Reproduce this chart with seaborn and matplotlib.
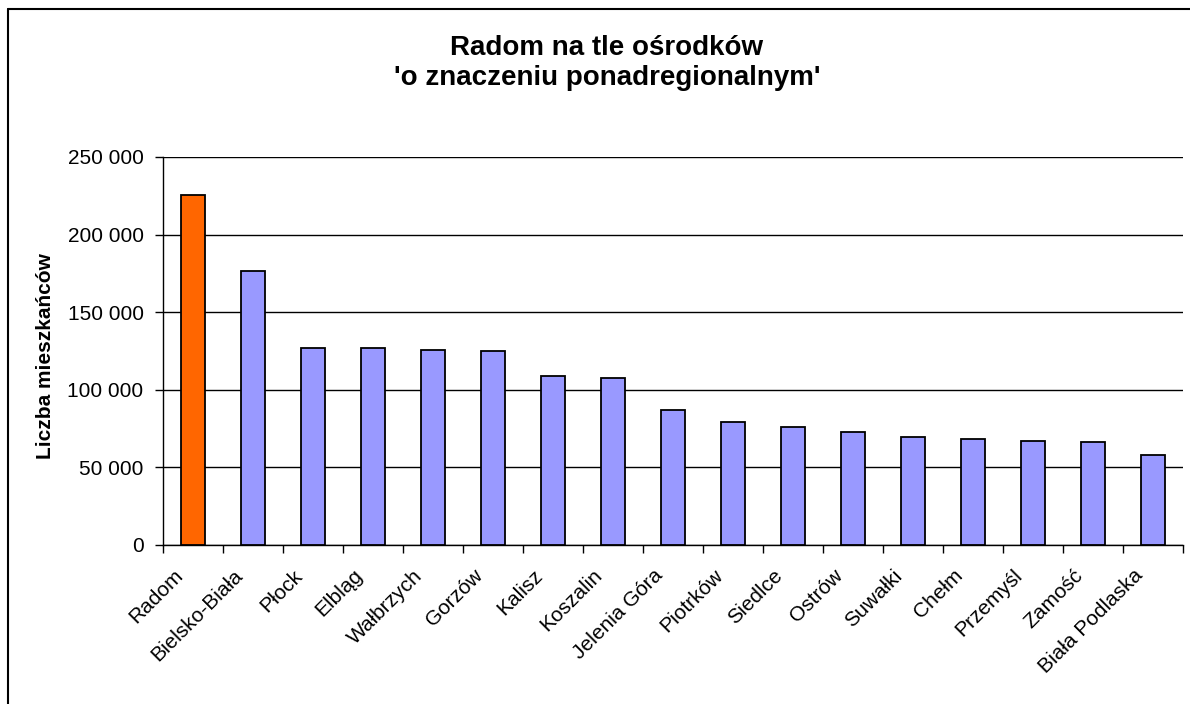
import matplotlib
matplotlib.use('Agg')
import matplotlib.pyplot as plt
import seaborn as sns
from matplotlib.lines import Line2D
from matplotlib.ticker import FuncFormatter, FixedLocator
from matplotlib.transforms import ScaledTranslation

cities = ['Radom', 'Bielsko-Biała', 'Płock', 'Elbląg', 'Wałbrzych', 'Gorzów', 'Kalisz',
          'Koszalin', 'Jelenia Góra', 'Piotrków', 'Siedlce', 'Ostrów', 'Suwałki', 'Chełm',
          'Przemyśl', 'Zamość', 'Biała Podlaska']
residents = [225700, 176800, 127000, 126900, 125900, 125100, 108600,
             107500, 87100, 79400, 76200, 72900, 69900, 68400,
             67300, 66300, 57700]
yticks = [0, 50000, 100000, 150000, 200000, 250000]

sns.set_style('white')
plt.rcParams['font.family'] = ['Liberation Sans', 'DejaVu Sans']
plt.rcParams.update({'text.color': 'black', 'axes.labelcolor': 'black',
                     'xtick.color': 'black', 'ytick.color': 'black'})

palette = {c: ('#FF6600' if c == 'Radom' else '#9999FF') for c in cities}

fig = plt.figure(figsize=(11.9, 7.04), dpi=100)
ax = fig.add_axes([163 / 1190, 1 - 545 / 704, 1020 / 1190, 388 / 704])

sns.barplot(x=cities, y=residents, hue=cities, palette=palette, width=0.4,
            edgecolor='black', linewidth=1.3, legend=False, ax=ax, saturation=1, zorder=3)

ax.set_xlim(-0.5, len(cities) - 0.5)
ax.set_ylim(0, 250000)
ax.set_yticks(yticks)
ax.yaxis.set_major_formatter(FuncFormatter(lambda v, p: f'{int(v):,}'.replace(',', ' ')))
ax.grid(axis='y', color='black', linewidth=1.0, zorder=0)
ax.set_axisbelow(True)

ax.set_xticks(range(len(cities)))
ax.set_xticklabels(cities, rotation=45, ha='right', rotation_mode='anchor', fontsize=15)
ax.xaxis.set_minor_locator(FixedLocator([i - 0.5 for i in range(len(cities) + 1)]))
ax.tick_params(axis='x', which='major', length=0, pad=15)
ax.tick_params(axis='x', which='minor', length=6, width=1, color='black', direction='out', bottom=True)
ax.tick_params(axis='y', length=6, width=1, color='black', direction='out', left=True, labelsize=15, pad=8)

# nudge the rotated labels left (after tick_params, which resets transforms)
shift = ScaledTranslation(-20 / 100, 0, fig.dpi_scale_trans)
for tick in ax.xaxis.get_major_ticks():
    tick.label1.set_transform(tick.label1.get_transform() + shift)

for s in ['top', 'right']:
    ax.spines[s].set_visible(False)
for s in ['left', 'bottom']:
    ax.spines[s].set_color('black')
    ax.spines[s].set_linewidth(1.0)

ax.set_ylabel('Liczba mieszkańców', fontsize=15, fontweight='bold')
ax.yaxis.set_label_coords((55 - 163) / 1020, 0.487)
ax.set_xlabel('')

fig.text(0.51, 1 - 63 / 704, "Radom na tle ośrodków\n'o znaczeniu ponadregionalnym'",
         ha='center', va='center', fontsize=20, fontweight='bold', linespacing=1.2)

# outer frame (top and left edge visible)
fig.add_artist(Line2D([8 / 1190, 8 / 1190], [0, 1 - 9 / 704], color='black', linewidth=1.5,
                      transform=fig.transFigure))
fig.add_artist(Line2D([8 / 1190, 1], [1 - 9 / 704, 1 - 9 / 704], color='black', linewidth=1.5,
                      transform=fig.transFigure))

fig.savefig('out.png', dpi=100)
